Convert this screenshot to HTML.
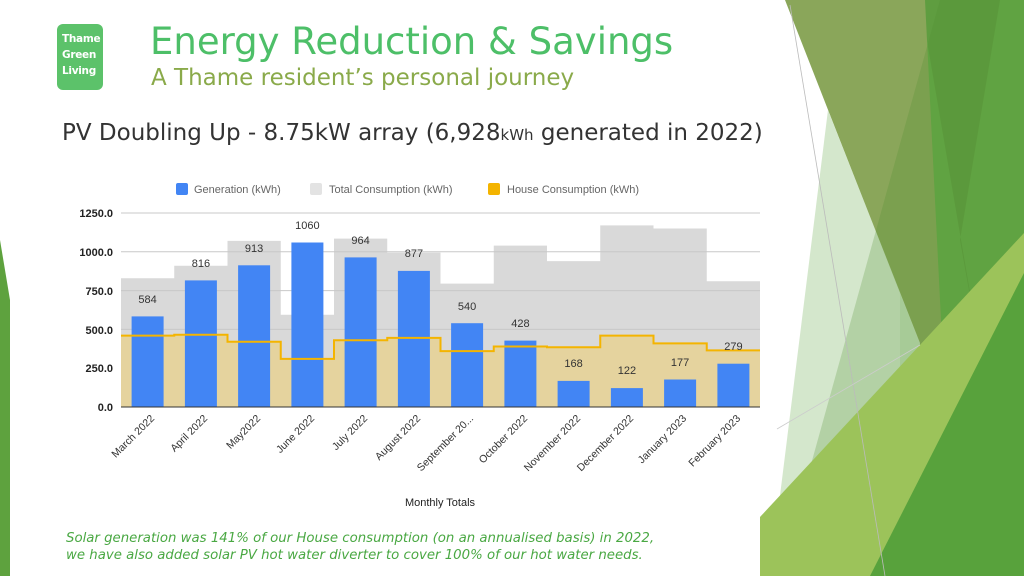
<!DOCTYPE html><html><head><meta charset="utf-8"><style>
body{margin:0;width:1024px;height:576px;overflow:hidden;background:#fff;font-family:"DejaVu Sans","Liberation Sans",sans-serif;position:relative}
.t{position:absolute;white-space:nowrap}
</style></head><body>
<svg width="1024" height="576" style="position:absolute;left:0;top:0">
<polygon points="0,240 10,300 10,576 0,576" fill="#5ea23e"/>
<rect x="900" y="0" width="124" height="576" fill="#66aa48"/>
<polygon points="920,0 1000,0 960,240 985,380" fill="#5f9d40"/>
<polygon points="785,0 925,0 945,400 937,388" fill="#8aa65a"/>
<polygon points="828,110 920,343 900,576 770,576" fill="#cfe4c7" opacity="0.9"/>
<polygon points="940,0 1024,0 1024,576 780,576" fill="#4f9030" opacity="0.25"/>
<polygon points="760,576 760,517 1024,233 1024,576" fill="#9cc35a"/>
<polygon points="870,576 1024,273 1024,576" fill="#58a23c"/>
<line x1="790" y1="5" x2="885" y2="576" stroke="#bbb" stroke-width="0.8"/>
<line x1="777" y1="429" x2="920" y2="345" stroke="#ccc" stroke-width="0.8"/>
<rect x="57" y="24" width="46" height="66" rx="6" fill="#5cc26a"/>
</svg>
<div class="t" style="left:62px;top:31px;color:#fff;font-weight:bold;font-size:10.5px;line-height:16px;letter-spacing:-0.3px">Thame<br>Green<br>Living</div>
<div class="t" style="left:150px;top:20px;color:#4dbf68;font-size:37px">Energy Reduction &amp; Savings</div>
<div class="t" style="left:151px;top:65px;color:#8aaa4a;font-size:23px">A Thame resident’s personal journey</div>
<div class="t" style="left:62px;top:120px;color:#333;font-size:23px">PV Doubling Up - 8.75kW array (6,928<span style="font-size:15px">kWh</span> generated in 2022)</div>
<svg width="1024" height="576" style="position:absolute;left:0;top:0" font-family="Liberation Sans,sans-serif">
<g font-size="11" fill="#666">
<rect x="176" y="183" width="12" height="12" rx="2" fill="#4285f4"/><text x="194" y="193">Generation (kWh)</text>
<rect x="310" y="183" width="12" height="12" rx="2" fill="#e3e3e3"/><text x="329" y="193">Total Consumption (kWh)</text>
<rect x="488" y="183" width="12" height="12" rx="2" fill="#f4b400"/><text x="507" y="193">House Consumption (kWh)</text>
</g>
<path d="M121,407 V278.2 H174.25 V265.8 H227.5 V240.9 H280.75 V314.7 H334 V238.6 H387.25 V252.6 H440.5 V283.6 H493.75 V245.6 H547 V261.1 H600.25 V225.4 H653.5 V228.5 H706.75 V281.3 H760 V407 Z" fill="#d9d9d9"/>
<g stroke="#c8c8c8" stroke-width="1"><line x1="121" x2="760" y1="213" y2="213"/><line x1="121" x2="760" y1="251.8" y2="251.8"/><line x1="121" x2="760" y1="290.6" y2="290.6"/><line x1="121" x2="760" y1="329.4" y2="329.4"/><line x1="121" x2="760" y1="368.2" y2="368.2"/></g>
<path d="M121,407 V335.6 H174.25 V334.8 H227.5 V341.8 H280.75 V358.9 H334 V340.3 H387.25 V337.9 H440.5 V351.1 H493.75 V346.5 H547 V347.2 H600.25 V335.6 H653.5 V343.4 H706.75 V350.4 H760 V407 Z" fill="#e5d39e"/>
<g fill="#4285f4">
<rect x="131.6" y="316.4" width="32" height="90.6"/><rect x="184.9" y="280.4" width="32" height="126.6"/><rect x="238.1" y="265.3" width="32" height="141.7"/><rect x="291.4" y="242.5" width="32" height="164.5"/><rect x="344.6" y="257.4" width="32" height="149.6"/><rect x="397.9" y="270.9" width="32" height="136.1"/><rect x="451.1" y="323.2" width="32" height="83.8"/><rect x="504.4" y="340.6" width="32" height="66.4"/><rect x="557.6" y="380.9" width="32" height="26.1"/><rect x="610.9" y="388.1" width="32" height="18.9"/><rect x="664.1" y="379.5" width="32" height="27.5"/><rect x="717.4" y="363.7" width="32" height="43.3"/>
</g>
<path d="M121,335.6 H174.25 V334.8 H227.5 V341.8 H280.75 V358.9 H334 V340.3 H387.25 V337.9 H440.5 V351.1 H493.75 V346.5 H547 V347.2 H600.25 V335.6 H653.5 V343.4 H706.75 V350.4 H760" fill="none" stroke="#f4b400" stroke-width="2"/>
<line x1="121" x2="760" y1="407" y2="407" stroke="#333"/>
<g font-size="11" fill="#333" text-anchor="middle">
<text x="147.6" y="303">584</text><text x="200.9" y="267">816</text><text x="254.1" y="252">913</text><text x="307.4" y="229">1060</text><text x="360.6" y="244">964</text><text x="413.9" y="257">877</text><text x="467.1" y="310">540</text><text x="520.4" y="327">428</text><text x="573.6" y="367">168</text><text x="626.9" y="374">122</text><text x="680.1" y="366">177</text><text x="733.4" y="350">279</text>
</g>
<g font-size="11" fill="#222" text-anchor="end" font-weight="bold">
<text x="113" y="217">1250.0</text><text x="113" y="256">1000.0</text><text x="113" y="295">750.0</text><text x="113" y="334">500.0</text><text x="113" y="372">250.0</text><text x="113" y="411">0.0</text>
</g>
<g font-size="10.5" fill="#333" text-anchor="end">
<text transform="translate(155,419) rotate(-45)">March 2022</text>
<text transform="translate(208,419) rotate(-45)">April 2022</text>
<text transform="translate(261,419) rotate(-45)">May2022</text>
<text transform="translate(315,419) rotate(-45)">June 2022</text>
<text transform="translate(368,419) rotate(-45)">July 2022</text>
<text transform="translate(421,419) rotate(-45)">August 2022</text>
<text transform="translate(474,419) rotate(-45)">September 20...</text>
<text transform="translate(528,419) rotate(-45)">October 2022</text>
<text transform="translate(581,419) rotate(-45)">November 2022</text>
<text transform="translate(634,419) rotate(-45)">December 2022</text>
<text transform="translate(687,419) rotate(-45)">January 2023</text>
<text transform="translate(741,419) rotate(-45)">February 2023</text>
</g>
<text x="440" y="506" font-size="11" fill="#222" text-anchor="middle">Monthly Totals</text>
</svg>
<div class="t" style="left:66px;top:530px;color:#4aa843;font-style:italic;font-size:13.3px;line-height:17px">Solar generation was 141% of our House consumption (on an annualised basis) in 2022,<br>we have also added solar PV hot water diverter to cover 100% of our hot water needs.</div>
</body></html>
